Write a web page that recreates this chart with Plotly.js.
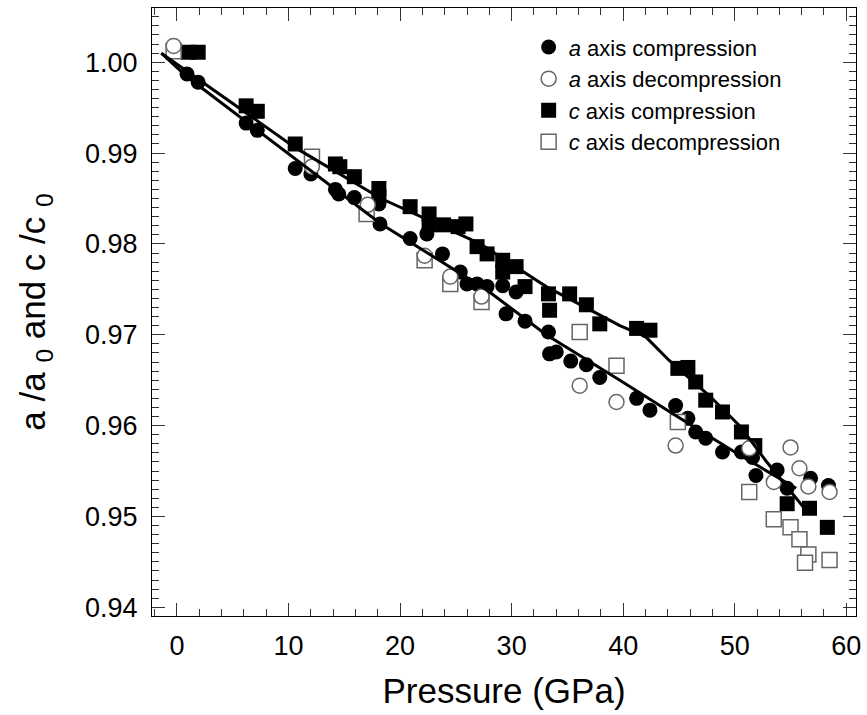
<!DOCTYPE html>
<html>
<head>
<meta charset="utf-8">
<script src="https://cdn.plot.ly/plotly-3.0.1.min.js"></script>
<style>html,body{margin:0;padding:0;background:#fff;}#chart{width:867px;height:715px;}</style>
</head>
<body>
<div id="chart"></div>
<script>
// a axis compression (filled circles)
const aCompP = [0.9,1.9,6.2,7.2,10.6,12.0,14.2,14.5,15.9,18.1,18.2,20.9,22.4,23.8,25.4,26.0,26.9,27.8,29.2,30.4,29.5,31.2,33.3,33.4,34.0,35.3,36.7,37.9,41.2,42.4,44.7,45.8,46.5,47.4,48.9,50.6,51.6,51.9,53.8,54.7,56.8,58.4];
const aCompV = [0.9987,0.9978,0.9933,0.9925,0.9883,0.9877,0.9860,0.9855,0.9851,0.9844,0.9822,0.9806,0.9811,0.9789,0.9769,0.9756,0.9756,0.9753,0.9754,0.9747,0.9723,0.9715,0.9703,0.9679,0.9681,0.9671,0.9667,0.9653,0.9630,0.9617,0.9622,0.9608,0.9593,0.9586,0.9571,0.9571,0.9565,0.9545,0.9551,0.9531,0.9542,0.9534];
// a axis decompression (open circles)
const aDecP = [-0.3,12.1,17.1,22.2,24.5,27.3,36.1,39.4,44.7,51.3,53.5,55.0,55.8,56.6,58.5];
const aDecV = [1.0018,0.9885,0.9843,0.9787,0.9764,0.9742,0.9644,0.9626,0.9578,0.9575,0.9538,0.9576,0.9553,0.9533,0.9527];
// c axis compression (filled squares)
const cCompP = [1.0,1.9,6.2,7.2,10.6,14.2,14.6,15.9,18.1,18.1,20.9,22.6,22.6,23.9,25.2,25.9,26.9,27.8,29.2,29.2,30.4,31.2,33.3,33.4,35.2,36.7,37.9,41.2,42.4,44.9,45.8,46.5,47.4,48.9,50.6,51.8,54.7,56.7,58.3];
const cCompV = [1.0011,1.0011,0.9952,0.9946,0.9910,0.9888,0.9885,0.9874,0.9861,0.9852,0.9841,0.9833,0.9821,0.9821,0.9819,0.9822,0.9797,0.9789,0.9782,0.9769,0.9775,0.9753,0.9745,0.9727,0.9745,0.9733,0.9712,0.9707,0.9705,0.9663,0.9664,0.9648,0.9628,0.9615,0.9593,0.9578,0.9514,0.9509,0.9488];
// c axis decompression (open squares)
const cDecP = [-0.3,12.1,17.0,22.2,24.5,27.3,36.1,39.4,44.9,51.3,53.5,55.0,55.8,56.6,56.3,58.5];
const cDecV = [1.0012,0.9896,0.9833,0.9782,0.9756,0.9736,0.9703,0.9666,0.9604,0.9527,0.9497,0.9488,0.9475,0.9458,0.9449,0.9452];
// fitted curves
const aFitP = [-1.4,0.9,18.3,27.8,33.1,39.7,44.7,50.4,55.5];
const aFitV = [1.0010,0.9984,0.9822,0.9749,0.9700,0.9650,0.9611,0.9568,0.9531];
const cFitP = [-1.4,10.6,18.3,27.2,33.1,39.7,42.0,44.1,47.8,50.5,52.8,56.7];
const cFitV = [1.0010,0.9906,0.9850,0.9800,0.9753,0.9710,0.9698,0.9672,0.9632,0.9599,0.9561,0.9502];

const openLine = {color:'#666', width:1.5};
const traces = [
  {x:aCompP, y:aCompV, mode:'markers', type:'scatter', name:'<i>a</i> axis compression', legendrank:1,
   marker:{symbol:'circle', size:15, color:'#000'}},
  {x:cCompP, y:cCompV, mode:'markers', type:'scatter', name:'<i>c</i> axis compression', legendrank:3,
   marker:{symbol:'square', size:15, color:'#000'}},
  {x:cDecP, y:cDecV, mode:'markers', type:'scatter', name:'<i>c</i> axis decompression', legendrank:4,
   marker:{symbol:'square', size:15, color:'#fff', line:openLine}},
  {x:aDecP, y:aDecV, mode:'markers', type:'scatter', name:'<i>a</i> axis decompression', legendrank:2,
   marker:{symbol:'circle', size:15, color:'#fff', line:openLine}},
  {x:aFitP, y:aFitV, mode:'lines', type:'scatter', showlegend:false, line:{color:'#000', width:3}},
  {x:cFitP, y:cFitV, mode:'lines', type:'scatter', showlegend:false, line:{color:'#000', width:3}}
];

const font = 'Liberation Sans, Arial, Helvetica, sans-serif';
const layout = {
  width:867, height:715,
  margin:{l:152, r:11, t:8, b:99},
  paper_bgcolor:'#fff', plot_bgcolor:'#fff',
  font:{family:font, color:'#000'},
  showlegend:true,
  legend:{x:0.535, y:0.97, xanchor:'left', yanchor:'top', bgcolor:'rgba(0,0,0,0)',
          font:{size:22, family:font}, itemsizing:'trace'},
  xaxis:{
    range:[-2.24,60.87], tick0:0, dtick:10, showgrid:false, zeroline:false,
    showline:true, linecolor:'#000', linewidth:1, mirror:'ticks',
    ticks:'inside', ticklen:13, tickcolor:'#333', tickwidth:1,
    minor:{dtick:2, ticks:'inside', ticklen:7, tickcolor:'#333', showgrid:false},
    tickfont:{size:27, family:font}, ticklabelstandoff:6,
    title:{text:'Pressure (GPa)', font:{size:35, family:font}, standoff:18}
  },
  yaxis:{
    range:[0.93904,1.00597], tick0:0.94, dtick:0.01, tickformat:'.2f', showgrid:false, zeroline:false,
    showline:true, linecolor:'#000', linewidth:1, mirror:'ticks',
    ticks:'inside', ticklen:13, tickcolor:'#333', tickwidth:1,
    minor:{dtick:0.001, ticks:'inside', ticklen:7, tickcolor:'#333', showgrid:false},
    tickfont:{size:27, family:font}, ticklabelstandoff:8,
    title:{text:'a /a <sub>0</sub> and c /c <sub>0</sub>', font:{size:35, family:font}, standoff:28}
  }
};
Plotly.newPlot('chart', traces, layout, {displayModeBar:false, staticPlot:true});
</script>
</body>
</html>
